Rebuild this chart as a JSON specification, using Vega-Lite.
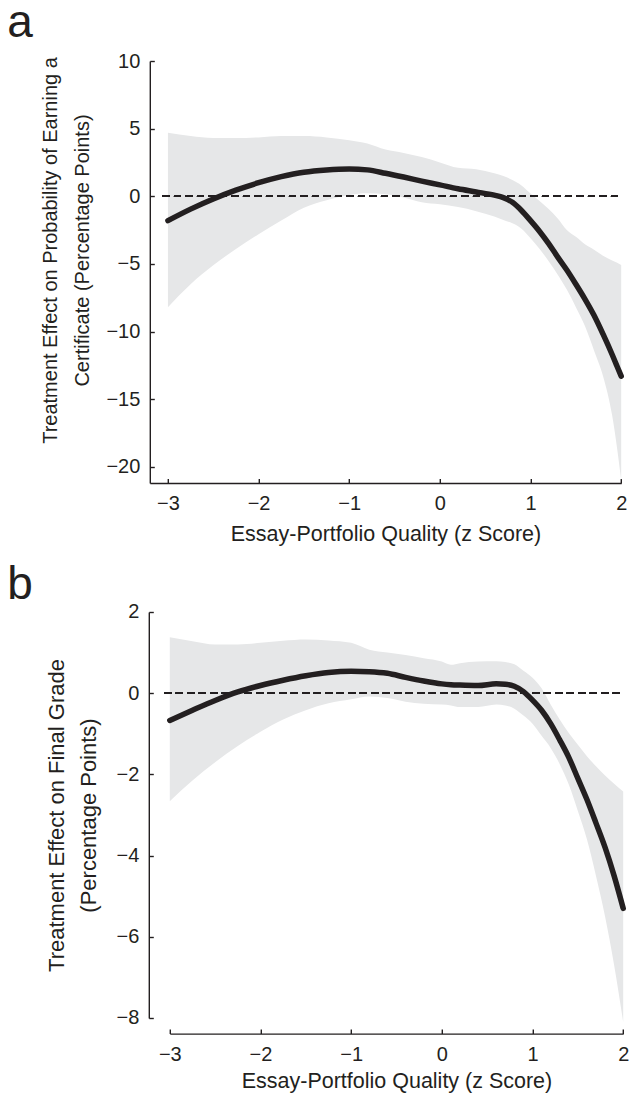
{
  "$schema": "https://vega.github.io/schema/vega-lite/v6.json",
  "padding": {"left": 6.8, "top": 0, "right": 4, "bottom": 2},
  "background": "white",
  "config": {
    "view": {"stroke": null},
    "font": "Liberation Sans",
    "axis": {
      "grid": false,
      "domainColor": "#231f20",
      "domainWidth": 1.4,
      "tickColor": "#231f20",
      "tickWidth": 1.4,
      "tickSize": -4.5,
      "format": "d",
      "labelFlush": false,
      "labelFont": "Liberation Sans",
      "labelFontSize": 20,
      "labelColor": "#231f20",
      "titleFont": "Liberation Sans",
      "titleFontWeight": "normal",
      "titleColor": "#231f20"
    },
    "axisX": {"labelPadding": 15.3, "labelFlush": false, "titleFontSize": 21.5, "titleBaseline": "alphabetic"},
    "axisY": {"labelPadding": 14.5, "labelFlush": false, "titleFontSize": 20, "titleLineHeight": 32, "titleBaseline": "alphabetic"}
  },
  "datasets": {
    "a": [
      {"x": -3, "est": -1.8, "lo": -8.2, "hi": 4.7},
      {"x": -2.75, "est": -0.95, "lo": -6.5, "hi": 4.45},
      {"x": -2.5, "est": -0.2, "lo": -5.1, "hi": 4.3},
      {"x": -2.25, "est": 0.45, "lo": -3.9, "hi": 4.3},
      {"x": -2, "est": 1.0, "lo": -2.8, "hi": 4.35},
      {"x": -1.75, "est": 1.45, "lo": -1.8, "hi": 4.45},
      {"x": -1.5, "est": 1.78, "lo": -0.85, "hi": 4.45},
      {"x": -1.25, "est": 1.95, "lo": -0.3, "hi": 4.35},
      {"x": -1, "est": 2.02, "lo": 0.1, "hi": 4.15},
      {"x": -0.8, "est": 1.95, "lo": 0.22, "hi": 3.9},
      {"x": -0.6, "est": 1.7, "lo": 0.15, "hi": 3.45},
      {"x": -0.4, "est": 1.42, "lo": -0.1, "hi": 3.2},
      {"x": -0.2, "est": 1.12, "lo": -0.45, "hi": 2.9},
      {"x": 0, "est": 0.84, "lo": -0.6, "hi": 2.5},
      {"x": 0.2, "est": 0.55, "lo": -0.8, "hi": 2.1},
      {"x": 0.4, "est": 0.32, "lo": -1.1, "hi": 2.0},
      {"x": 0.6, "est": 0.08, "lo": -1.5, "hi": 1.7},
      {"x": 0.7, "est": -0.1, "lo": -1.75, "hi": 1.5},
      {"x": 0.8, "est": -0.45, "lo": -2.0, "hi": 1.2},
      {"x": 0.9, "est": -1.05, "lo": -2.4, "hi": 0.8},
      {"x": 1.0, "est": -1.8, "lo": -3.1, "hi": 0.2},
      {"x": 1.1, "est": -2.6, "lo": -3.9, "hi": -0.35},
      {"x": 1.2, "est": -3.5, "lo": -4.8, "hi": -0.95},
      {"x": 1.3, "est": -4.5, "lo": -5.8, "hi": -1.65},
      {"x": 1.4, "est": -5.45, "lo": -6.9, "hi": -2.5},
      {"x": 1.5, "est": -6.5, "lo": -8.2, "hi": -3.0},
      {"x": 1.6, "est": -7.6, "lo": -9.6, "hi": -3.55},
      {"x": 1.7, "est": -8.8, "lo": -11.4, "hi": -3.95},
      {"x": 1.8, "est": -10.2, "lo": -13.3, "hi": -4.4},
      {"x": 1.9, "est": -11.7, "lo": -16.2, "hi": -4.75},
      {"x": 1.95, "est": -12.5, "lo": -18.4, "hi": -4.9},
      {"x": 2.0, "est": -13.3, "lo": -21.0, "hi": -5.08}
    ],
    "b": [
      {"x": -3, "est": -0.67, "lo": -2.66, "hi": 1.38},
      {"x": -2.75, "est": -0.42, "lo": -2.15, "hi": 1.28},
      {"x": -2.5, "est": -0.18, "lo": -1.7, "hi": 1.2},
      {"x": -2.25, "est": 0.03, "lo": -1.3, "hi": 1.2},
      {"x": -2, "est": 0.19, "lo": -0.95, "hi": 1.24},
      {"x": -1.75, "est": 0.32, "lo": -0.65, "hi": 1.29},
      {"x": -1.5, "est": 0.43, "lo": -0.42, "hi": 1.32},
      {"x": -1.25, "est": 0.51, "lo": -0.25, "hi": 1.3},
      {"x": -1, "est": 0.54, "lo": -0.15, "hi": 1.24},
      {"x": -0.8, "est": 0.53, "lo": -0.08, "hi": 1.07},
      {"x": -0.6, "est": 0.49, "lo": -0.12, "hi": 1.0},
      {"x": -0.4, "est": 0.39, "lo": -0.21, "hi": 0.94},
      {"x": -0.2, "est": 0.3, "lo": -0.26, "hi": 0.86},
      {"x": 0, "est": 0.23, "lo": -0.28, "hi": 0.78},
      {"x": 0.1, "est": 0.21, "lo": -0.3, "hi": 0.7},
      {"x": 0.2, "est": 0.2, "lo": -0.34, "hi": 0.74},
      {"x": 0.4, "est": 0.19, "lo": -0.34, "hi": 0.78},
      {"x": 0.6, "est": 0.23, "lo": -0.28, "hi": 0.79},
      {"x": 0.7, "est": 0.22, "lo": -0.3, "hi": 0.77},
      {"x": 0.8, "est": 0.17, "lo": -0.38, "hi": 0.71},
      {"x": 0.9, "est": 0.04, "lo": -0.55, "hi": 0.55},
      {"x": 1.0, "est": -0.17, "lo": -0.75, "hi": 0.38},
      {"x": 1.1, "est": -0.42, "lo": -1.05, "hi": 0.12},
      {"x": 1.2, "est": -0.75, "lo": -1.35, "hi": -0.28},
      {"x": 1.3, "est": -1.15, "lo": -1.75, "hi": -0.65},
      {"x": 1.4, "est": -1.58, "lo": -2.25, "hi": -0.98},
      {"x": 1.5, "est": -2.1, "lo": -2.9, "hi": -1.27},
      {"x": 1.6, "est": -2.62, "lo": -3.6, "hi": -1.55},
      {"x": 1.7, "est": -3.2, "lo": -4.5, "hi": -1.8},
      {"x": 1.8, "est": -3.8, "lo": -5.5, "hi": -2.03},
      {"x": 1.9, "est": -4.5, "lo": -6.7, "hi": -2.23},
      {"x": 2.0, "est": -5.3, "lo": -8.1, "hi": -2.42}
    ]
  },
  "spacing": 17,
  "vconcat": [
    {
      "title": {"text": "a", "anchor": "start", "frame": "group", "dx": -142.5, "offset": -32, "baseline": "alphabetic", "fontSize": 46, "fontWeight": "normal", "font": "Liberation Sans", "color": "#231f20"},
      "width": 471.4,
      "height": 422,
      "data": {"name": "a"},
      "layer": [
        {
          "mark": {"type": "area", "color": "#e6e7e8", "interpolate": "monotone"},
          "encoding": {
            "x": {"field": "x", "type": "quantitative", "scale": {"domain": [-3.2, 2], "nice": false, "zero": false},
                  "axis": {"values": [-3, -2, -1, 0, 1, 2], "title": "Essay-Portfolio Quality (z Score)", "titleY": 57.3}},
            "y": {"field": "lo", "type": "quantitative", "scale": {"domain": [-21.2, 10], "nice": false, "zero": false},
                  "axis": {"values": [-20, -15, -10, -5, 0, 5, 10], "title": ["Treatment Effect on Probability of Earning a", "Certificate (Percentage Points)"], "titleX": -93.3, "titleY": 189}},
            "y2": {"field": "hi"}
          }
        },
        {
          "mark": {"type": "rule", "strokeDash": [7, 4.5], "color": "#231f20", "strokeWidth": 1.3},
          "encoding": {"x": {"datum": -3.06}, "x2": {"datum": 2}, "y": {"datum": 0}}
        },
        {
          "mark": {"type": "line", "color": "#231f20", "strokeWidth": 5.5, "strokeCap": "round", "interpolate": "monotone"},
          "encoding": {
            "x": {"field": "x", "type": "quantitative"},
            "y": {"field": "est", "type": "quantitative"}
          }
        }
      ]
    },
    {
      "title": {"text": "b", "anchor": "start", "frame": "group", "dx": -142.5, "offset": -43.3, "baseline": "alphabetic", "fontSize": 46, "fontWeight": "normal", "font": "Liberation Sans", "color": "#231f20"},
      "width": 473.4,
      "height": 406,
      "data": {"name": "b"},
      "layer": [
        {
          "mark": {"type": "area", "color": "#e6e7e8", "interpolate": "monotone"},
          "encoding": {
            "x": {"field": "x", "type": "quantitative", "scale": {"domain": [-3, 2], "range": [20, 473.4], "nice": false, "zero": false},
                  "axis": {"values": [-3, -2, -1, 0, 1, 2], "title": "Essay-Portfolio Quality (z Score)", "offset": 15.6, "titleY": 53.5}},
            "y": {"field": "lo", "type": "quantitative", "scale": {"domain": [-8, 2], "nice": false, "zero": false},
                  "axis": {"values": [-8, -6, -4, -2, 0, 2], "title": ["Treatment Effect on Final Grade", "(Percentage Points)"], "titleFontSize": 22, "offset": 1, "titleX": -85.6, "titleY": 203}},
            "y2": {"field": "hi"}
          }
        },
        {
          "mark": {"type": "rule", "strokeDash": [7, 4.5], "color": "#231f20", "strokeWidth": 1.3},
          "encoding": {"x": {"datum": -3.06}, "x2": {"datum": 2}, "y": {"datum": 0}}
        },
        {
          "mark": {"type": "line", "color": "#231f20", "strokeWidth": 5.5, "strokeCap": "round", "interpolate": "monotone"},
          "encoding": {
            "x": {"field": "x", "type": "quantitative"},
            "y": {"field": "est", "type": "quantitative"}
          }
        }
      ]
    }
  ]
}
